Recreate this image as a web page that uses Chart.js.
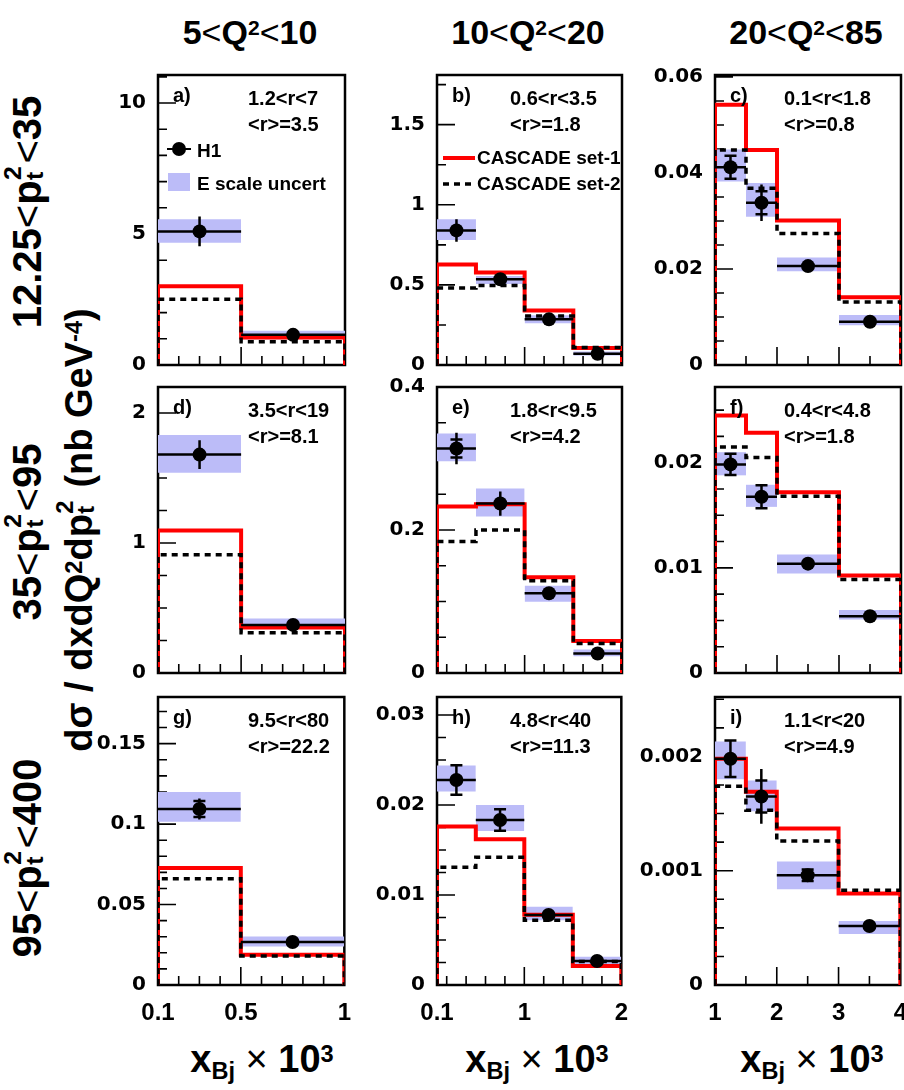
<!DOCTYPE html>
<html>
<head>
<meta charset="utf-8">
<script src="https://cdn.jsdelivr.net/npm/chart.js@4.4.0/dist/chart.umd.min.js"></script>
<style>
html, body { margin: 0; padding: 0; background: #fff; width: 904px; height: 1090px; overflow: hidden; }
canvas { position: absolute; }
.t { position: absolute; font-family: "Liberation Sans", Arial, sans-serif; font-weight: bold; color: #000; white-space: nowrap; text-align: center; }
.up { position: relative; top: -0.42em; font-size: 0.62em; }
.dn { position: relative; top: 0.3em; font-size: 0.62em; }
.lt { font-weight: normal; }
.ss { display: inline-block; position: relative; width: 0.42em; height: 0.8em; }
.ss .u { position: absolute; left: 0.02em; top: -0.32em; font-size: 0.62em; line-height: 1; }
.ss .d { position: absolute; left: 0.02em; top: 0.55em; font-size: 0.62em; line-height: 1; }
.rot { transform: rotate(-90deg); height: 40px; line-height: 40px; font-size: 40px; width: 700px; }
</style>
</head>
<body>
<div class="t" style="left:50px;top:15px;width:400px;font-size:34px;line-height:34px;">5<span class="lt">&lt;</span>Q<span class="up">2</span><span class="lt">&lt;</span>10</div>
<div class="t" style="left:328px;top:15px;width:400px;font-size:34px;line-height:34px;">10<span class="lt">&lt;</span>Q<span class="up">2</span><span class="lt">&lt;</span>20</div>
<div class="t" style="left:606px;top:15px;width:400px;font-size:34px;line-height:34px;">20<span class="lt">&lt;</span>Q<span class="up">2</span><span class="lt">&lt;</span>85</div>

<div class="t rot" style="left:-323px;top:192px;">12.25<span class="lt">&lt;</span>p<span class="ss"><span class="u">2</span><span class="d">t</span></span><span class="lt">&lt;</span>35</div>
<div class="t rot" style="left:-323px;top:512px;">35<span class="lt">&lt;</span>p<span class="ss"><span class="u">2</span><span class="d">t</span></span><span class="lt">&lt;</span>95</div>
<div class="t rot" style="left:-323px;top:838px;">95<span class="lt">&lt;</span>p<span class="ss"><span class="u">2</span><span class="d">t</span></span><span class="lt">&lt;</span>400</div>
<div class="t rot" style="left:-271px;top:510px;font-size:38px;">dσ / dxdQ<span class="up">2</span>dp<span class="ss"><span class="u">2</span><span class="d">t</span></span> (nb GeV<span class="up">-4</span>)</div>

<div class="t" style="left:62px;top:1040px;width:400px;font-size:38px;line-height:38px;">x<span class="dn">Bj</span> <span class="lt">×</span> 10<span class="up">3</span></div>
<div class="t" style="left:337px;top:1040px;width:400px;font-size:38px;line-height:38px;">x<span class="dn">Bj</span> <span class="lt">×</span> 10<span class="up">3</span></div>
<div class="t" style="left:612px;top:1040px;width:400px;font-size:38px;line-height:38px;">x<span class="dn">Bj</span> <span class="lt">×</span> 10<span class="up">3</span></div>

<script>
// bin edges (x_Bj * 10^3) per Q^2 column
const edgesQ1 = [0.1, 0.5, 1];
const edgesQ2 = [0.1, 0.5, 1, 1.5, 2];
const edgesQ3 = [1, 1.5, 2, 3, 4];
const xTicksQ1 = [0.1, 0.5, 1];
const xTicksQ2 = [0.1, 1, 2];
const xTicksQ3 = [1, 2, 3, 4];

// a) 5<Q2<10, 12.25<pt2<35
const h1_a = [5.1, 1.15];
const tot_a = [0.57, 0.08];
const stat_a = [0, 0];
const bandLo_a = [4.67, 0.98];
const bandHi_a = [5.56, 1.31];
const set1_a = [3.01, 1.05];
const set2_a = [2.51, 0.89];
// b) 10<Q2<20, 12.25<pt2<35
const h1_b = [0.84, 0.535, 0.285, 0.07];
const tot_b = [0.07, 0.03, 0.025, 0.02];
const stat_b = [0, 0, 0, 0];
const bandLo_b = [0.78, 0.506, 0.26, 0.06];
const bandHi_b = [0.91, 0.556, 0.31, 0.085];
const set1_b = [0.627, 0.577, 0.34, 0.106];
const set2_b = [0.48, 0.496, 0.306, 0.11];
// c) 20<Q2<85, 12.25<pt2<35
const h1_c = [0.0412, 0.0338, 0.0206, 0.009];
const tot_c = [0.0025, 0.0038, 0.0008, 0.0005];
const stat_c = [0.0024, 0.0024, 0, 0];
const bandLo_c = [0.0382, 0.0309, 0.0195, 0.0083];
const bandHi_c = [0.0449, 0.0379, 0.0224, 0.0104];
const set1_c = [0.0542, 0.0448, 0.0301, 0.0141];
const set2_c = [0.0448, 0.0368, 0.0274, 0.0131];
// d) 5<Q2<10, 35<pt2<95
const h1_d = [1.68, 0.37];
const tot_d = [0.11, 0.03];
const stat_d = [0, 0];
const bandLo_d = [1.54, 0.36];
const bandHi_d = [1.83, 0.42];
const set1_d = [1.097, 0.35];
const set2_d = [0.91, 0.31];
// e) 10<Q2<20, 35<pt2<95
const h1_e = [0.314, 0.237, 0.1115, 0.0272];
const tot_e = [0.022, 0.017, 0.006, 0.004];
const stat_e = [0.0125, 0, 0, 0];
const bandLo_e = [0.296, 0.219, 0.0997, 0.0235];
const bandHi_e = [0.335, 0.258, 0.122, 0.033];
const set1_e = [0.233, 0.236, 0.134, 0.0447];
const set2_e = [0.184, 0.2, 0.129, 0.0414];
// f) 20<Q2<85, 35<pt2<95
const h1_f = [0.01984, 0.01676, 0.0104, 0.0054];
const tot_f = [0.001, 0.0011, 0.0003, 0.0002];
const stat_f = [0.001, 0.0011, 0, 0];
const bandLo_f = [0.0188, 0.0158, 0.00946, 0.0051];
const bandHi_f = [0.021, 0.0179, 0.01127, 0.006];
const set1_f = [0.0245, 0.02286, 0.0172, 0.00927];
const set2_f = [0.0215, 0.0205, 0.0168, 0.00889];
// g) 5<Q2<10, 95<pt2<400
const h1_g = [0.1094, 0.0267];
const tot_g = [0.0065, 0.002];
const stat_g = [0.005, 0];
const bandLo_g = [0.1015, 0.024];
const bandHi_g = [0.12, 0.0302];
const set1_g = [0.0727, 0.01875];
const set2_g = [0.066, 0.0181];
// h) 10<Q2<20, 95<pt2<400
const h1_h = [0.02278, 0.01833, 0.00778, 0.00267];
const tot_h = [0.00165, 0.0012, 0.0004, 0.0002];
const stat_h = [0.00165, 0.0012, 0, 0];
const bandLo_h = [0.0215, 0.0171, 0.0072, 0.0022];
const bandHi_h = [0.0244, 0.02, 0.0087, 0.00315];
const set1_h = [0.0176, 0.0162, 0.0078, 0.0021];
const set2_h = [0.01307, 0.0142, 0.0072, 0.0026];
// i) 20<Q2<85, 95<pt2<400
const h1_i = [0.00198, 0.00165, 0.00096, 0.000516];
const tot_i = [0.00016, 0.00024, 0.00005, 0.00002];
const stat_i = [0.00016, 0.00014, 0.00005, 0];
const bandLo_i = [0.0018, 0.00152, 0.000837, 0.000446];
const bandHi_i = [0.00213, 0.00179, 0.00108, 0.00056];
const set1_i = [0.00198, 0.00169, 0.00137, 0.0008];
const set2_i = [0.00174, 0.00153, 0.00126, 0.00083];

// y axes
const yMax = [11.07, 1.81, 0.0604, 2.2, 0.4, 0.0272, 0.179, 0.032, 0.00252];
const yTicks = [[0, 5, 10], [0, 0.5, 1, 1.5], [0, 0.02, 0.04, 0.06],
                [0, 1, 2], [0, 0.2, 0.4], [0, 0.01, 0.02],
                [0, 0.05, 0.1, 0.15], [0, 0.01, 0.02, 0.03], [0, 0.001, 0.002]];
const yMinor = [1, 0.25, 0.005, 0.25, 0.05, 0.0025, 0.01, 0.0025, 0.00025];

const letters = ['a)', 'b)', 'c)', 'd)', 'e)', 'f)', 'g)', 'h)', 'i)'];
const rangeText = ['1.2<r<7', '0.6<r<3.5', '0.1<r<1.8', '3.5<r<19', '1.8<r<9.5', '0.4<r<4.8', '9.5<r<80', '4.8<r<40', '1.1<r<20'];
const meanText = ['<r>=3.5', '<r>=1.8', '<r>=0.8', '<r>=8.1', '<r>=4.2', '<r>=1.8', '<r>=22.2', '<r>=11.3', '<r>=4.9'];

const BAND = 'rgb(188,188,248)';
const M = 30; // room above/below each frame for edge tick labels

const cols = [
  {left: 158, w: 187, edges: edgesQ1, xLab: xTicksQ1, xStart: 0.1, xStep: 0.1, tx: 90},
  {left: 437, w: 185, edges: edgesQ2, xLab: xTicksQ2, xStart: 0, xStep: 0.2, tx: 73},
  {left: 715, w: 186, edges: edgesQ3, xLab: xTicksQ3, xStart: 1, xStep: 0.5, tx: 69}
];
const rows = [{top: 75, h: 290}, {top: 387, h: 286}, {top: 697, h: 288}];

const panelData = [
  [h1_a, tot_a, stat_a, bandLo_a, bandHi_a, set1_a, set2_a],
  [h1_b, tot_b, stat_b, bandLo_b, bandHi_b, set1_b, set2_b],
  [h1_c, tot_c, stat_c, bandLo_c, bandHi_c, set1_c, set2_c],
  [h1_d, tot_d, stat_d, bandLo_d, bandHi_d, set1_d, set2_d],
  [h1_e, tot_e, stat_e, bandLo_e, bandHi_e, set1_e, set2_e],
  [h1_f, tot_f, stat_f, bandLo_f, bandHi_f, set1_f, set2_f],
  [h1_g, tot_g, stat_g, bandLo_g, bandHi_g, set1_g, set2_g],
  [h1_h, tot_h, stat_h, bandLo_h, bandHi_h, set1_h, set2_h],
  [h1_i, tot_i, stat_i, bandLo_i, bandHi_i, set1_i, set2_i]
];

const TXT = 'bold 20px "Liberation Sans", Arial, sans-serif';
const LEG = 'bold 19px "Liberation Sans", Arial, sans-serif';

// frame and inward ticks, ROOT style
const frameTicks = {
  id: 'frameTicks',
  beforeDatasetsDraw(chart, args, o) {
    const {ctx, chartArea: a, scales: {x, y}} = chart;
    ctx.save();
    ctx.strokeStyle = '#000';
    ctx.lineWidth = 2.5;
    ctx.strokeRect(a.left, a.top, a.right - a.left, a.bottom - a.top);
    ctx.lineWidth = 1.6;
    ctx.beginPath();
    for (let k = 1; k * o.yStep <= y.max + 1e-12; k++) {
      const v = k * o.yStep;
      const major = o.yLab.some(t => Math.abs(t - v) < o.yStep / 10);
      const py = y.getPixelForValue(v);
      ctx.moveTo(a.left, py);
      ctx.lineTo(a.left + (major ? 18 : 9), py);
    }
    for (let k = 1; o.xStart + k * o.xStep < x.max - 1e-9; k++) {
      const v = o.xStart + k * o.xStep;
      const major = o.xLab.some(t => Math.abs(t - v) < o.xStep / 10);
      const px = x.getPixelForValue(v);
      ctx.moveTo(px, a.bottom);
      ctx.lineTo(px, a.bottom - (major ? 18 : 9));
    }
    ctx.stroke();
    ctx.restore();
  },
  beforeDatasetDraw(chart, args) {
    const ds = chart.data.datasets[args.index];
    if (!ds.errTot) return;
    const {ctx, scales: {x, y}} = chart;
    ctx.save();
    ctx.strokeStyle = '#000';
    ctx.lineWidth = 2.5;
    ctx.beginPath();
    ds.data.forEach((p, i) => {
      const px = x.getPixelForValue(p.x);
      const py = y.getPixelForValue(p.y);
      ctx.moveTo(x.getPixelForValue(ds.xLo[i]), py);
      ctx.lineTo(x.getPixelForValue(ds.xHi[i]), py);
      ctx.moveTo(px, y.getPixelForValue(p.y - ds.errTot[i]));
      ctx.lineTo(px, y.getPixelForValue(p.y + ds.errTot[i]));
      if (ds.errStat[i] > 0) {
        [-1, 1].forEach(s => {
          const cy = y.getPixelForValue(p.y + s * ds.errStat[i]);
          ctx.moveTo(px - 6, cy);
          ctx.lineTo(px + 6, cy);
        });
      }
    });
    ctx.stroke();
    ctx.restore();
  },
  afterDatasetsDraw(chart, args, o) {
    const {ctx, chartArea: a} = chart;
    ctx.save();
    ctx.fillStyle = '#000';
    ctx.font = TXT;
    ctx.textBaseline = 'alphabetic';
    ctx.fillText(o.letter, a.left + 15, a.top + 27);
    ctx.fillText(o.range, a.left + o.tx, a.top + 30);
    ctx.fillText(o.mean, a.left + o.tx, a.top + 56);
    ctx.font = LEG;
    if (o.legend === 'h1') {
      ctx.strokeStyle = '#000';
      ctx.lineWidth = 2;
      ctx.beginPath();
      ctx.moveTo(a.left + 9, a.top + 74);
      ctx.lineTo(a.left + 33, a.top + 74);
      ctx.stroke();
      ctx.beginPath();
      ctx.arc(a.left + 21, a.top + 74, 7, 0, Math.PI * 2);
      ctx.fill();
      ctx.fillText('H1', a.left + 39, a.top + 82);
      ctx.fillStyle = BAND;
      ctx.fillRect(a.left + 10, a.top + 98, 22, 18);
      ctx.fillStyle = '#000';
      ctx.fillText('E scale uncert', a.left + 39, a.top + 115);
    } else if (o.legend === 'mc') {
      ctx.strokeStyle = 'rgb(255,0,0)';
      ctx.lineWidth = 4;
      ctx.beginPath();
      ctx.moveTo(a.left + 6, a.top + 83);
      ctx.lineTo(a.left + 38, a.top + 83);
      ctx.stroke();
      ctx.strokeStyle = '#000';
      ctx.lineWidth = 3.5;
      ctx.setLineDash([6, 5]);
      ctx.beginPath();
      ctx.moveTo(a.left + 6, a.top + 109);
      ctx.lineTo(a.left + 38, a.top + 109);
      ctx.stroke();
      ctx.setLineDash([]);
      ctx.fillText('CASCADE set-1', a.left + 40, a.top + 89);
      ctx.fillText('CASCADE set-2', a.left + 40, a.top + 115);
    }
    ctx.restore();
  }
};

function stepPoints(edges, vals) {
  const pts = [{x: edges[0], y: 0}];
  vals.forEach((v, i) => pts.push({x: edges[i], y: v}));
  pts.push({x: edges[edges.length - 1], y: 0});
  return pts;
}

panelData.forEach((pd, p) => {
  const col = cols[p % 3];
  const row = rows[Math.floor(p / 3)];
  const bottomRow = p >= 6;
  const [h1, tot, stat, lo, hi, s1, s2] = pd;
  const e = col.edges;

  const cv = document.createElement('canvas');
  const W = col.w + 80 + 20;
  const H = row.h + M + (bottomRow ? 50 : M);
  cv.width = W; cv.height = H;
  cv.style.left = (col.left - 80) + 'px';
  cv.style.top = (row.top - M) + 'px';
  document.body.appendChild(cv);

  const datasets = [];
  lo.forEach((l, i) => {
    datasets.push({
      data: [{x: e[i], y: hi[i]}, {x: e[i + 1], y: hi[i]}],
      fill: {value: l}, backgroundColor: BAND, borderColor: 'rgba(0,0,0,0)',
      borderWidth: 0, pointRadius: 0, order: 10
    });
  });
  datasets.push({
    data: stepPoints(e, s1), stepped: 'before', borderColor: 'rgb(255,0,0)',
    borderWidth: 4, pointRadius: 0, fill: false, order: 5
  });
  datasets.push({
    data: stepPoints(e, s2), stepped: 'before', borderColor: '#000', borderDash: [6, 5],
    borderWidth: 3.5, pointRadius: 0, fill: false, order: 4
  });
  datasets.push({
    data: h1.map((v, i) => ({x: (e[i] + e[i + 1]) / 2, y: v})),
    xLo: e.slice(0, -1), xHi: e.slice(1), errTot: tot, errStat: stat,
    showLine: false, pointRadius: 7, pointBackgroundColor: '#000', pointBorderColor: '#000',
    pointBorderWidth: 0, order: 1
  });

  new Chart(cv, {
    type: 'line',
    data: {datasets},
    plugins: [frameTicks],
    options: {
      responsive: false, animation: false, devicePixelRatio: 1,
      layout: {padding: {left: 0, right: 20, top: M, bottom: bottomRow ? 0 : M}},
      plugins: {
        legend: {display: false}, tooltip: {enabled: false},
        frameTicks: {
          yStep: yMinor[p], yLab: yTicks[p], xStart: col.xStart, xStep: col.xStep, xLab: col.xLab,
          letter: letters[p], range: rangeText[p], mean: meanText[p], tx: col.tx,
          legend: p === 0 ? 'h1' : (p === 1 ? 'mc' : '')
        }
      },
      scales: {
        x: {
          type: 'linear', min: e[0], max: e[e.length - 1], display: bottomRow,
          afterBuildTicks: s => { s.ticks = col.xLab.map(v => ({value: v})); },
          afterFit: s => { s.height = bottomRow ? 50 : 0; },
          grid: {display: false, drawTicks: false}, border: {display: false},
          ticks: {
            autoSkip: false, maxRotation: 0, minRotation: 0, padding: 14, color: '#000',
            font: {family: '"Liberation Sans", Arial, sans-serif', size: 24, weight: 'bold'},
            callback: v => String(v)
          }
        },
        y: {
          type: 'linear', min: 0, max: yMax[p],
          afterBuildTicks: s => { s.ticks = yTicks[p].map(v => ({value: v})); },
          afterFit: s => { s.width = 80; },
          grid: {display: false, drawTicks: false}, border: {display: false},
          ticks: {
            autoSkip: false, padding: 12, color: '#000',
            font: {family: '"DejaVu Sans", sans-serif', size: 20, weight: 'bold'},
            callback: v => String(v)
          }
        }
      }
    }
  });
});
</script>
</body>
</html>
